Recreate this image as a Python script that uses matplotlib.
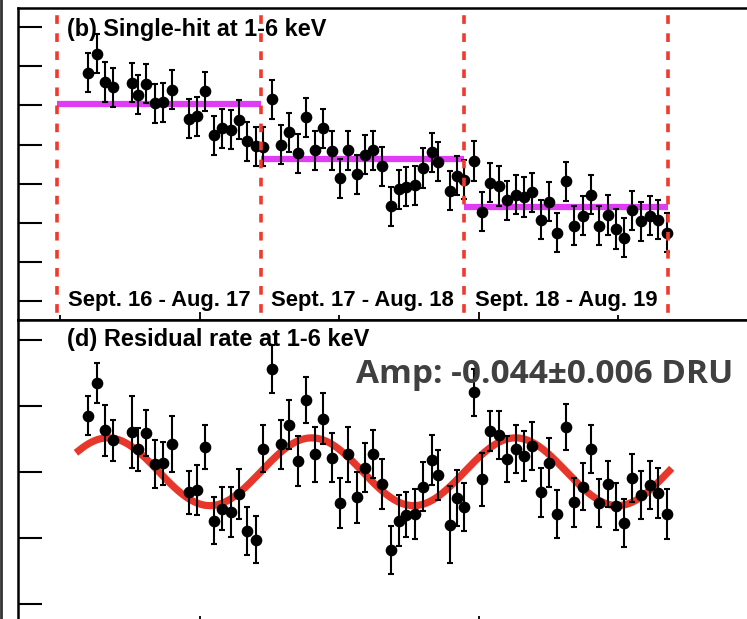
import numpy as np
import matplotlib
matplotlib.use("Agg")
import matplotlib.pyplot as plt
from matplotlib.ticker import MultipleLocator
from matplotlib.lines import Line2D

# x = days since 1 Jan 2016 (15-day bins)
days = [300, 315, 330, 345, 379, 389, 404, 419, 434, 450, 480, 495, 510, 525, 540,
        555, 570, 585, 600, 613, 630, 645, 660, 676, 691, 706, 721, 736, 751, 766,
        781, 796, 811, 827, 842, 856, 870, 886, 900, 916, 926, 948, 961, 973, 991,
        1005, 1020, 1036, 1051, 1066, 1081, 1096, 1111, 1125, 1140, 1156, 1171, 1186,
        1201, 1216, 1231, 1246, 1260, 1275, 1290, 1306, 1321, 1337]

# (b) single-hit rate at 1-6 keV (DRU)
rate = [2.892, 2.916, 2.880, 2.873, 2.879, 2.864, 2.878, 2.853, 2.854, 2.870, 2.833,
        2.836, 2.868, 2.812, 2.821, 2.819, 2.832, 2.804, 2.798, 2.797, 2.858, 2.800,
        2.816, 2.789, 2.835, 2.793, 2.821, 2.792, 2.757, 2.793, 2.762, 2.787, 2.793,
        2.772, 2.721, 2.743, 2.746, 2.748, 2.770, 2.790, 2.778, 2.741, 2.760, 2.755,
        2.779, 2.714, 2.751, 2.747, 2.729, 2.736, 2.733, 2.739, 2.704, 2.727, 2.687,
        2.753, 2.696, 2.709, 2.736, 2.696, 2.710, 2.692, 2.681, 2.716, 2.702, 2.709,
        2.704, 2.687]
rate_err = 0.025

# (d) residual rate at 1-6 keV
resid = [0.068, 0.107, 0.050, 0.038, 0.048, 0.027, 0.047, 0.009, 0.010, 0.034, -0.025,
         -0.022, 0.030, -0.059, -0.045, -0.049, -0.027, -0.072, -0.082, 0.028, 0.124,
         0.033, 0.057, 0.013, 0.087, 0.021, 0.064, 0.017, -0.038, 0.021, -0.031, 0.005,
         0.022, -0.015, -0.095, -0.059, -0.052, -0.051, -0.018, 0.014, -0.004, -0.064,
         -0.032, -0.043, 0.096, -0.009, 0.049, 0.045, 0.015, 0.027, 0.019, 0.031, -0.025,
         0.011, -0.051, 0.054, -0.037, -0.018, 0.027, -0.038, -0.015, -0.042, -0.062,
         -0.007, -0.028, -0.016, -0.026, -0.051]
resid_err = [0.024, 0.024, 0.031, 0.025, 0.044, 0.026, 0.028, 0.029, 0.026, 0.034, 0.026,
             0.030, 0.027, 0.029, 0.026, 0.030, 0.030, 0.029, 0.028, 0.028, 0.029, 0.030,
             0.030, 0.030, 0.028, 0.033, 0.031, 0.030, 0.030, 0.033, 0.031, 0.030, 0.029,
             0.030, 0.029, 0.031, 0.027, 0.030, 0.030, 0.030, 0.030, 0.047, 0.034, 0.029,
             0.028, 0.032, 0.024, 0.029, 0.028, 0.029, 0.030, 0.029, 0.030, 0.030, 0.029,
             0.028, 0.030, 0.028, 0.029, 0.029, 0.028, 0.028, 0.029, 0.029, 0.029, 0.029,
             0.030, 0.030]

# yearly periods (1 Sept boundaries) and flat level per period
bounds = [244, 609, 974, 1339]
levels = [2.852, 2.782, 2.720]
period_labels = ["Sept. 16 - Aug. 17", "Sept. 17 - Aug. 18", "Sept. 18 - Aug. 19"]

# modulation fit: amp * cos(2pi (t - t0)/T)
amp = -0.041
t0 = 152.5
period = 365.25
fit_range = (283, 1341)

W, H = 747, 619
fig = plt.figure(figsize=(W / 100, H / 100), dpi=100)

xlim = (174, 1500)
left = 18 / W
width = (xlim[1] - xlim[0]) * 0.558 / W
ax1 = fig.add_axes([left, 1 - 319.5 / H, width, 312 / H])
ax2 = fig.add_axes([left, 1 - 624 / H, width, 304.5 / H])

red = "#ef3a2d"
mag = "#e03cf5"

for ax in (ax1, ax2):
    ax.set_xlim(*xlim)
    for s in ax.spines.values():
        s.set_linewidth(1.8)
    ax.xaxis.set_major_locator(MultipleLocator(500))
    ax.xaxis.set_minor_locator(MultipleLocator(250))
    ax.tick_params(axis="x", which="major", direction="in", length=6, width=1.3,
                   labelbottom=False)
    ax.tick_params(axis="x", which="minor", direction="in", length=3.5, width=1.3)
    ax.tick_params(axis="y", which="major", direction="in", length=17, width=1.5,
                   labelleft=False)

# top panel
ax1.set_ylim(2.5763, 2.9753)
ax1.yaxis.set_major_locator(MultipleLocator(0.05))
ax1.errorbar(days, rate, yerr=rate_err, fmt="o", color="black", ms=7.4, elinewidth=1.5,
             capsize=2.5, capthick=1.5, zorder=4)
for i, lv in enumerate(levels):
    ax1.hlines(lv, bounds[i], bounds[i + 1], color=mag, lw=4.5, zorder=3)
for b in bounds:
    ax1.axvline(b, color=red, lw=2.6, linestyle=(3, (2.4, 2.6)), zorder=5)
for i, lab in enumerate(period_labels):
    ax1.text((bounds[i] + bounds[i + 1]) / 2, 2.6 - 5.5 / 782, lab, ha="center",
             va="baseline", fontsize=15.8, fontweight="bold", family="Liberation Sans")
fig.text(67 / W, 1 - 36 / H, "(b) Single-hit at 1-6 keV", ha="left", va="baseline",
         fontsize=16.9, fontweight="bold", family="Liberation Sans")

# bottom panel
ax2.set_ylim(-0.1842, 0.1842)
ax2.yaxis.set_major_locator(MultipleLocator(0.08))
t = np.linspace(fit_range[0], fit_range[1], 600)
ax2.plot(t, amp * np.cos(2 * np.pi * (t - t0) / period), color="#e8372a", lw=5.2, zorder=3)
ax2.errorbar(days, resid, yerr=resid_err, fmt="o", color="black", ms=7.4, elinewidth=1.5,
             capsize=2.5, capthick=1.5, zorder=4)
fig.text(67 / W, 1 - 345.7 / H, "(d) Residual rate at 1-6 keV", ha="left", va="baseline",
         fontsize=17, fontweight="bold", family="Liberation Sans")
fig.text(356 / W, 1 - 383 / H, "Amp: -0.044\u00b10.006 DRU", ha="left", va="baseline",
         fontsize=24, fontweight="bold", family="Open Sans", color="#404040")

# edge of the neighbouring panel
fig.add_artist(Line2D([1.5 / W, 1.5 / W], [0, 1], color="#333333", lw=2,
                      transform=fig.transFigure))

fig.savefig("out.png", dpi=100)
